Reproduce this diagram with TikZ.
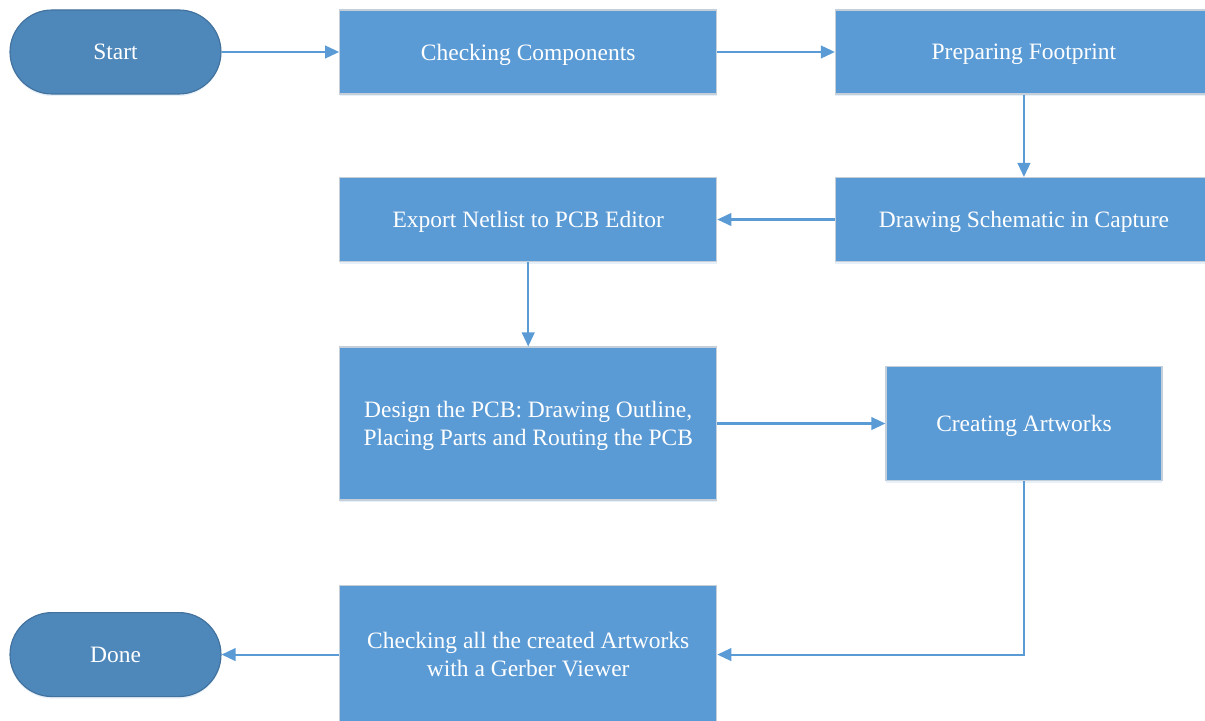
\documentclass[tikz,border=0pt]{standalone}
\usepackage{fontspec}
\setmainfont{Liberation Serif}
\usetikzlibrary{positioning}
\usetikzlibrary{arrows.meta}
\usetikzlibrary{shadows}
\definecolor{boxblue}{HTML}{5B9BD5}
\definecolor{boxedge}{HTML}{C5CFD9}
\definecolor{pillblue}{HTML}{4E87BA}
\definecolor{pilledge}{HTML}{41719C}
\definecolor{linkblue}{HTML}{5B9BD5}

\begin{document}
\begin{tikzpicture}[node distance=2.06cm and 2.94cm,
        every node/.style={font=\fontsize{16.7pt}{19.9pt}\selectfont, text=white, align=center, text depth=0pt},
        softshadow/.style={drop shadow={shadow xshift=0pt, shadow yshift=-0.05cm, opacity=0.15, fill=boxblue}},
        pill/.style={draw=pilledge, fill=pillblue, line width=0.8pt, rounded corners=1.05cm,
            minimum width=5.275cm, minimum height=2.1cm, softshadow},
        stepbox/.style={draw=boxedge, fill=boxblue, line width=0.8pt,
            minimum width=9.425cm, minimum height=2.1cm, softshadow},
        link/.style={draw=linkblue, line width=1.5pt, -{Triangle[length=10pt,width=9pt]}}]
        \useasboundingbox (-2.8875,1.3) rectangle (27.2375,-16.725);
        % top row
        \node [pill] (start) {Start};
        \node [stepbox, right=of start] (check) {Checking Components};
        \node [stepbox, right=of check] (foot) {Preparing Footprint};
        % coming back to the left
        \node [stepbox, below=of foot] (schem) {Drawing Schematic in Capture};
        \node [stepbox, below=of check] (export) {Export Netlist to PCB Editor};
        \node [stepbox, below=2.11cm of export, minimum height=3.825cm] (design)
            {Design the PCB: Drawing Outline,\\Placing Parts and Routing the PCB};
        \node [stepbox, minimum width=6.9cm, minimum height=2.85cm] (art) at (design -| foot) {Creating Artworks};
        \node [stepbox, below=2.11cm of design, minimum height=3.45cm] (gerber)
            {Checking all the created Artworks\\with a Gerber Viewer};
        \node [pill] (done) at (gerber -| start) {Done};
        % connectors
        \draw [link] (start) -- (check);
        \draw [link] (check) -- (foot);
        \draw [link] (foot) -- (schem);
        \draw [link] (schem) -- (export);
        \draw [link] (export) -- (design);
        \draw [link] (design) -- (art);
        \draw [link] (art.south) |- (gerber.east);
        \draw [link] (gerber) -- (done);
    \end{tikzpicture}
\end{document}
